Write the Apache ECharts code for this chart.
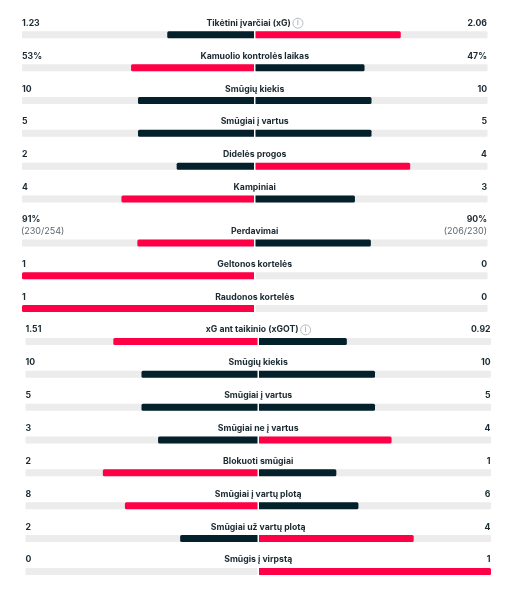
<!DOCTYPE html>
<html>
<head lang="en">
    <meta charset="UTF-8">
    <title></title>
    <style>
        html,body{margin:0;padding:0;background:#fff;}
    </style>
</head>
<body>
<div id="mychart" style="width: 507px;height: 590px;"></div>
<script src="https://cdn.jsdelivr.net/npm/echarts@6/dist/echarts.min.js"></script>
<script>
    var rowNames=['Tikėtini įvarčiai (xG)','Kamuolio kontrolės laikas','Smūgių kiekis','Smūgiai į vartus','Didelės progos','Kampiniai','Perdavimai','Geltonos kortelės','Raudonos kortelės','xG ant taikinio (xGOT)','Smūgių kiekis','Smūgiai į vartus','Smūgiai ne į vartus','Blokuoti smūgiai','Smūgiai į vartų plotą','Smūgiai už vartų plotą','Smūgis į virpstą'];
    var leftValues=[1.23,53,10,5,2,4,91,1,1,1.51,10,5,3,2,8,2,0];
    var rightValues=[2.06,47,10,5,4,3,90,0,0,0.92,10,5,4,1,6,4,1];
    var leftLabels=['1.23','53%','10','5','2','4','91%','1','1','1.51','10','5','3','2','8','2','0'];
    var rightLabels=['2.06','47%','10','5','4','3','90%','0','0','0.92','10','5','4','1','6','4','1'];
    // antra eilute tik perdavimams
    var leftNotes={6:'(230/254)'};
    var rightNotes={6:'(206/230)'};
    var infoRows=[0,9];

    var RED='#ff0046',DARK='#03202b',TRACK='#ececec',TEXT='#1c2a32';
    var chart=echarts.init(document.getElementById('mychart'));

    function rowY(i){
        return 34.8+32.85*i+(i>=6?11:0);
    }
    function rowX(i){
        return i>=9?3.5:0;
    }

    var grids=[],xAxes=[],yAxes=[],series=[],titles=[];
    function addSide(i,isLeft,value,color){
        var idx=grids.length;
        var max=leftValues[i]+rightValues[i];
        grids.push({left:(isLeft?22:255.5)+rowX(i),width:232,top:rowY(i)-3.5,height:7});
        xAxes.push({gridIndex:idx,type:'value',min:0,max:max,inverse:isLeft,show:false});
        yAxes.push({gridIndex:idx,type:'category',data:[rowNames[i]],show:false});
        series.push({
            type:'bar',
            xAxisIndex:idx,
            yAxisIndex:idx,
            data:[value],
            barWidth:'100%',
            silent:true,
            showBackground:true,
            backgroundStyle:{color:TRACK,borderRadius:1},
            itemStyle:{color:color,borderRadius:isLeft?[1.5,0,0,1.5]:[0,1.5,1.5,0]}
        });
    }
    function addText(text,left,y,align,style){
        titles.push({
            text:text,
            left:left,
            top:y,
            padding:0,
            textAlign:align,
            textVerticalAlign:'middle',
            textStyle:style
        });
    }

    var boldStyle={color:TEXT,fontFamily:'Inter',fontSize:8.7,fontWeight:700};
    var noteStyle={color:'#5c676e',fontFamily:'Inter',fontSize:9,fontWeight:400};
    var centerStyle={
        color:TEXT,fontFamily:'Inter',fontSize:8.7,fontWeight:700,
        rich:{
            info:{
                color:'#8f979c',fontFamily:'Inter',fontSize:7.5,fontWeight:400,
                width:10,height:10,lineHeight:10,align:'center',
                borderColor:'#b0b5b8',borderWidth:0.9,borderRadius:5.5
            }
        }
    };

    for(var i=0;i<rowNames.length;i++){
        var l=leftValues[i],r=rightValues[i];
        addSide(i,true,l,l>r?RED:DARK);
        addSide(i,false,r,r>l?RED:DARK);

        var y=rowY(i),xl=22+rowX(i),xr=487+rowX(i),cx=254.7+rowX(i);
        var hasNote=leftNotes[i]!==undefined;
        var labelY=y-11.6;
        addText(leftLabels[i],xl,hasNote?labelY-12:labelY,'left',boldStyle);
        addText(rightLabels[i],xr,hasNote?labelY-12:labelY,'right',boldStyle);
        if(hasNote){
            addText(leftNotes[i],xl-1,labelY,'left',noteStyle);
            addText(rightNotes[i],xr,labelY,'right',noteStyle);
        }
        var name=rowNames[i];
        if(infoRows.indexOf(i)>=0){
            name=name+' {info|i}';
        }
        addText(name,cx,labelY,'center',centerStyle);
    }

    chart.setOption({
        animation:false,
        backgroundColor:'#fff',
        title:titles,
        grid:grids,
        xAxis:xAxes,
        yAxis:yAxes,
        series:series
    });
</script>
</body>
</html>
